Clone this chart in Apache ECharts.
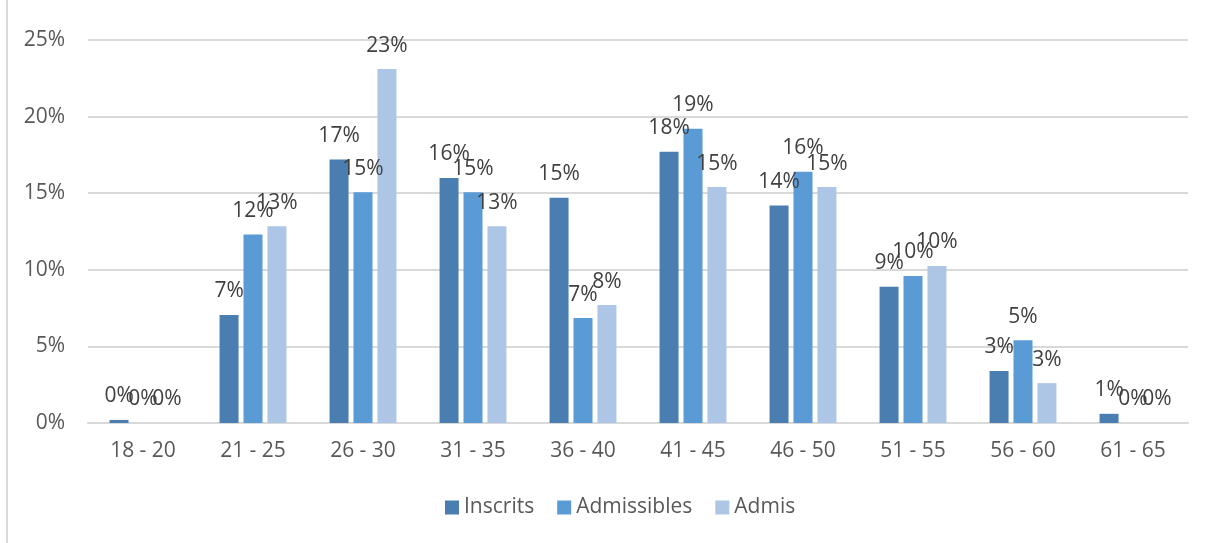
<!DOCTYPE html>
<html>
<head>
<meta charset="utf-8">
<script src="https://cdn.jsdelivr.net/npm/echarts@6/dist/echarts.min.js"></script>
<style>
  html, body { margin: 0; padding: 0; background: #fff; }
  #main { width: 1212px; height: 543px; position: relative; }
  .frame { position: absolute; left: 6px; top: 0; width: 2px; height: 543px; background: #d9d9d9; }
</style>
</head>
<body>
<div class="frame"></div>
<div id="main"></div>
<script>
// tranches d'âge
const categories = ["18 - 20", "21 - 25", "26 - 30", "31 - 35", "36 - 40", "41 - 45", "46 - 50", "51 - 55", "56 - 60", "61 - 65"];
// valeurs en %
const inscrits = [0.2, 7.05, 17.2, 16.0, 14.7, 17.7, 14.2, 8.9, 3.4, 0.6];
const admissibles = [0, 12.3, 15.07, 15.07, 6.85, 19.2, 16.4, 9.6, 5.4, 0];
const admis = [0, 12.85, 23.1, 12.85, 7.7, 15.4, 15.4, 10.25, 2.6, 0];
const seriesNames = ["Inscrits", "Admissibles", "Admis"];
const colors = ["#4a7eb0", "#5b9bd5", "#adc6e6"];

const font = "'Open Sans', sans-serif";
const chart = echarts.init(document.getElementById("main"));

const label = {
  show: true,
  position: "top",
  distance: 13,
  color: "#404040",
  fontFamily: font,
  fontSize: 21,
  formatter: (p) => Math.round(p.value) + "%",
};

const option = {
  animation: false,
  color: colors,
  grid: { left: 88, right: 24, top: 40, bottom: 120 },
  legend: {
    bottom: 20,
    left: 440,
    itemWidth: 14,
    itemHeight: 14,
    itemGap: 23,
    icon: "rect",
    textStyle: { color: "#595959", fontFamily: font, fontSize: 21 },
    data: seriesNames,
  },
  xAxis: {
    type: "category",
    data: categories,
    axisLine: { lineStyle: { color: "#d9d9d9", width: 2 } },
    axisTick: { show: false },
    axisLabel: { color: "#595959", fontFamily: font, fontSize: 21, margin: 18 },
  },
  yAxis: {
    type: "value",
    min: 0,
    max: 25,
    interval: 5,
    axisLine: { show: false },
    axisTick: { show: false },
    axisLabel: { color: "#595959", fontFamily: font, fontSize: 21, margin: 23, formatter: "{value}%" },
    splitLine: { lineStyle: { color: "#d9d9d9", width: 2 } },
  },
  series: [
    { name: seriesNames[0], type: "bar", data: inscrits, barWidth: 19, barGap: "26%", label },
    { name: seriesNames[1], type: "bar", data: admissibles, barWidth: 19, barGap: "26%", label },
    { name: seriesNames[2], type: "bar", data: admis, barWidth: 19, barGap: "26%", label },
  ],
};
chart.setOption(option);
</script>
</body>
</html>
